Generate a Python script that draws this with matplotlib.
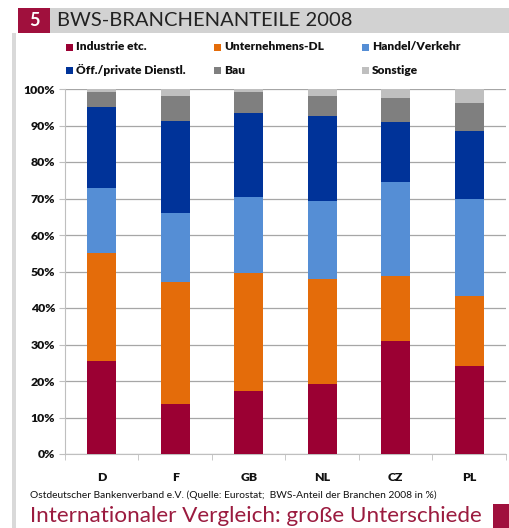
import numpy as np
import matplotlib.pyplot as plt
from matplotlib.patches import Rectangle
from matplotlib.ticker import FuncFormatter

plt.rcParams['font.family'] = ['Lato', 'DejaVu Sans']

# data (shares in %)
countries = ['D', 'F', 'GB', 'NL', 'CZ', 'PL']
industrie = [25.5, 13.6, 17.2, 19.3, 30.9, 24.2]
unternehmens_dl = [29.7, 33.6, 32.3, 28.6, 17.9, 19.0]
handel_verkehr = [17.6, 18.9, 21.0, 21.3, 25.6, 26.8]
oeff_private = [22.2, 25.2, 22.8, 23.4, 16.5, 18.6]
bau = [4.1, 6.9, 6.0, 5.6, 6.7, 7.6]
sonstige = [0.9, 1.8, 0.7, 1.8, 2.4, 3.8]

series = [industrie, unternehmens_dl, handel_verkehr, oeff_private, bau, sonstige]
labels = ['Industrie etc.', 'Unternehmens-DL', 'Handel/Verkehr',
          'Öff./private Dienstl.', 'Bau', 'Sonstige']
colors = ['#9b0033', '#e46c0a', '#558ed5', '#003399', '#7f7f7f', '#bfbfbf']

W, H = 510, 528
fig = plt.figure(figsize=(W / 100, H / 100), dpi=100)

def px(x0, y0, w, h):
    return [x0 / W, 1 - (y0 + h) / H, w / W, h / H]

# frame decorations
bg = fig.add_axes([0, 0, 1, 1])
bg.set_xlim(0, W)
bg.set_ylim(H, 0)
bg.axis('off')
bg.add_patch(Rectangle((50, 8), 460, 25, color='#d2d2d2', lw=0))
bg.add_patch(Rectangle((18, 8), 32, 25, color='#a0103d', lw=0))
bg.add_patch(Rectangle((12, 33), 4, H - 33, color='#d9d9d9', lw=0))
bg.add_patch(Rectangle((493, 504), 17, 24, color='#a0103d', lw=0))
bg.text(34, 21, '5', color='white', fontsize=13, fontweight='bold',
        ha='center', va='center')
bg.text(57, 21, 'BWS-BRANCHENANTEILE 2008', color='#222222', fontsize=14.5,
        ha='left', va='center')
bg.text(30, 495, 'Ostdeutscher Bankenverband e.V. (Quelle: Eurostat;  BWS-Anteil der Branchen 2008 in %)',
        fontsize=7.4, ha='left', va='center', color='#111111')
bg.text(30, 516, 'Internationaler Vergleich: große Unterschiede', fontsize=16.2,
        ha='left', va='center', color='#9b1b3f')

# legend
leg_x = [66, 214, 362]
leg_y = [47, 70]
for i, (lab, col) in enumerate(zip(labels, colors)):
    lx = leg_x[i % 3]
    ly = leg_y[i // 3]
    bg.add_patch(Rectangle((lx, ly - 3.5), 7, 7, color=col, lw=0))
    bg.text(lx + 10, ly, lab, fontsize=8.6, fontweight='heavy', ha='left',
            va='center', color='#111111')

# chart
ax = fig.add_axes(px(65, 89, 441, 365))
x = np.arange(len(countries))
bottom = np.zeros(len(countries))
for vals, col in zip(series, colors):
    ax.bar(x, vals, width=0.39, bottom=bottom, color=col, zorder=3)
    bottom += np.array(vals)

ax.set_xlim(-0.5, len(countries) - 0.5)
ax.set_ylim(0, 100)
ax.set_yticks(np.arange(0, 101, 10))
ax.yaxis.set_major_formatter(FuncFormatter(lambda v, p: f'{int(v)}%'))
ax.set_xticks(x)
ax.set_xticklabels(countries)
ax.set_xticks(np.arange(-0.5, len(countries), 1), minor=True)
ax.grid(axis='y', color='#a6a6a6', lw=0.9, zorder=0)
for s in ['top', 'right']:
    ax.spines[s].set_visible(False)
ax.spines['left'].set_color('#bfbfbf')
ax.spines['bottom'].set_color('#bfbfbf')
ax.tick_params(axis='y', length=4, color='#bfbfbf', labelsize=8.8, pad=3)
ax.tick_params(axis='x', which='major', length=0, labelsize=8.8, pad=13)
ax.tick_params(axis='x', which='minor', length=4, color='#bfbfbf')
for t in ax.get_yticklabels() + ax.get_xticklabels():
    t.set_fontweight('heavy')
    t.set_color('#111111')

fig.savefig('out.png', dpi=100)
